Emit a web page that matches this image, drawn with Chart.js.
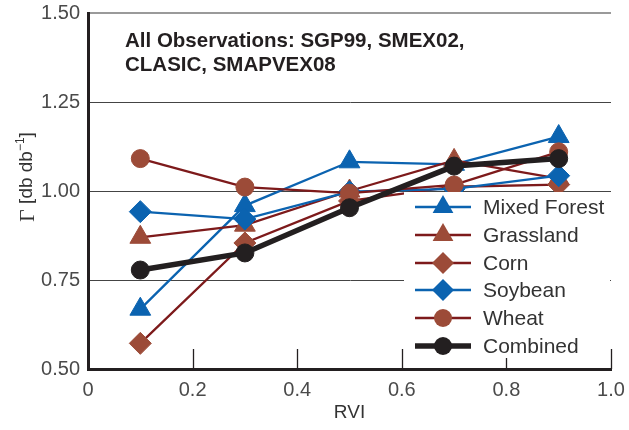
<!DOCTYPE html>
<html>
<head>
<meta charset="utf-8">
<script src="https://cdn.jsdelivr.net/npm/chart.js@4/dist/chart.umd.min.js"></script>
<style>
html,body{margin:0;padding:0;background:#fff;}
canvas{display:block;}
</style>
</head>
<body>
<canvas id="c" width="629" height="430"></canvas>
<script>
// ---- data ----
const rvi = [0.1, 0.3, 0.5, 0.7, 0.9];
const mixedForest = [0.668, 0.959, 1.082, 1.075, 1.153];
const grassland   = [0.870, 0.904, 1.000, 1.086, 1.035];
const corn        = [0.572, 0.854, 0.972, 1.012, 1.018];
const soybean     = [0.942, 0.921, 0.998, 1.006, 1.043];
const wheat       = [1.091, 1.011, 0.994, 1.017, 1.110];
const combined    = [0.778, 0.826, 0.953, 1.070, 1.091];
const seriesNames = ['Mixed Forest', 'Grassland', 'Corn', 'Soybean', 'Wheat', 'Combined'];
const xTicks = [0, 0.2, 0.4, 0.6, 0.8, 1.0];
const xTickLabels = ['0', '0.2', '0.4', '0.6', '0.8', '1.0'];
const yTicks = [0.5, 0.75, 1.0, 1.25, 1.5];
const yTickLabels = ['0.50', '0.75', '1.00', '1.25', '1.50'];
const titleLines = ['All Observations: SGP99, SMEX02,', 'CLASIC, SMAPVEX08'];
const xTitle = 'RVI';

const BLUE = '#0b63b0', DRED = '#7d1a1b', BROWN = '#9c4b38', BLACK = '#231f20';
const SANS = '"Liberation Sans", Arial, sans-serif';

function pts(arr){ return arr.map((v,i)=>({x: rvi[i], y: v})); }

const styles = [
  {line: BLUE, fill: BLUE, shape: 'triangle', r: 12, w: 2.3, order: 5},
  {line: DRED, fill: BROWN, shape: 'triangle', r: 12, w: 2.3, order: 4},
  {line: DRED, fill: BROWN, shape: 'rectRot', r: 11, w: 2.3, order: 3},
  {line: BLUE, fill: BLUE, shape: 'rectRot', r: 11, w: 2.3, order: 2},
  {line: DRED, fill: BROWN, shape: 'circle', r: 9, w: 2.3, order: 1},
  {line: BLACK, fill: BLACK, shape: 'circle', r: 9, w: 5.5, order: 0}
];
const allData = [mixedForest, grassland, corn, soybean, wheat, combined];

const datasets = allData.map((d, i) => ({
  label: seriesNames[i],
  data: pts(d),
  borderColor: styles[i].line,
  borderWidth: styles[i].w,
  backgroundColor: styles[i].fill,
  pointBackgroundColor: styles[i].fill,
  pointBorderColor: styles[i].fill,
  pointBorderWidth: 1,
  pointRadius: styles[i].r,
  pointHoverRadius: styles[i].r,
  pointStyle: styles[i].shape,
  tension: 0,
  fill: false,
  order: styles[i].order
}));

function drawShape(ctx, shape, r, x, y){
  ctx.beginPath();
  if (shape === 'triangle'){
    ctx.moveTo(x, y - r);
    ctx.lineTo(x + 0.866*r, y + 0.5*r);
    ctx.lineTo(x - 0.866*r, y + 0.5*r);
    ctx.closePath();
  } else if (shape === 'rectRot'){
    ctx.moveTo(x - r, y); ctx.lineTo(x, y - r); ctx.lineTo(x + r, y); ctx.lineTo(x, y + r);
    ctx.closePath();
  } else {
    ctx.arc(x, y, r, 0, Math.PI*2);
  }
  ctx.fill();
}

const decor = {
  id: 'decor',
  beforeDatasetsDraw(chart){
    const ctx = chart.ctx, xs = chart.scales.x, a = chart.chartArea;
    ctx.save();
    ctx.strokeStyle = BLACK; ctx.lineWidth = 1.3;
    xTicks.slice(1).forEach(v => {
      const px = Math.round(xs.getPixelForValue(v)) + 0.5;
      ctx.beginPath(); ctx.moveTo(px, a.bottom); ctx.lineTo(px, a.bottom - 20); ctx.stroke();
    });
    ctx.restore();
  },
  afterDraw(chart){
    const ctx = chart.ctx;
    ctx.save();
    // in-plot title text
    ctx.fillStyle = BLACK;
    ctx.font = 'bold 20.5px ' + SANS;
    ctx.textBaseline = 'alphabetic';
    ctx.textAlign = 'left';
    ctx.fillText(titleLines[0], 125, 47);
    ctx.fillText(titleLines[1], 125, 71);
    // legend box
    ctx.fillStyle = '#fff';
    ctx.fillRect(404, 192, 206, 166);
    const rows = [207, 235, 263, 290, 318, 346];
    seriesNames.forEach((name, i) => {
      const y = rows[i], s = styles[i];
      ctx.strokeStyle = s.line; ctx.lineWidth = s.w;
      ctx.beginPath(); ctx.moveTo(415, y); ctx.lineTo(471, y); ctx.stroke();
      ctx.fillStyle = s.fill;
      drawShape(ctx, s.shape, s.r, 443, y);
      ctx.fillStyle = '#333';
      ctx.font = '21px ' + SANS;
      ctx.textBaseline = 'middle';
      ctx.fillText(name, 483, y + 1);
    });
    // y-axis title (rotated)
    ctx.translate(27, 177);
    ctx.rotate(-Math.PI/2);
    ctx.fillStyle = '#333';
    ctx.textBaseline = 'middle';
    const p1 = 'Γ', p2 = ' [db db', p3 = '−1', p4 = ']';
    ctx.font = '22px "Liberation Serif", serif'; const w1 = ctx.measureText(p1).width;
    ctx.font = '19px ' + SANS; const w2 = ctx.measureText(p2).width; const w4 = ctx.measureText(p4).width;
    ctx.font = '12px ' + SANS; const w3 = ctx.measureText(p3).width;
    let x = -(w1 + w2 + w3 + w4)/2;
    ctx.font = '22px "Liberation Serif", serif'; ctx.fillText(p1, x, 1); x += w1;
    ctx.font = '19px ' + SANS; ctx.fillText(p2, x, 0); x += w2;
    ctx.font = '12px ' + SANS; ctx.fillText(p3, x, -6); x += w3;
    ctx.font = '19px ' + SANS; ctx.fillText(p4, x, 0);
    ctx.restore();
  }
};

new Chart(document.getElementById('c'), {
  type: 'line',
  data: { datasets },
  plugins: [decor],
  options: {
    responsive: false,
    devicePixelRatio: 1,
    animation: false,
    layout: { padding: { top: 7, right: 18, left: 0, bottom: 0 } },
    plugins: { legend: { display: false }, tooltip: { enabled: false }, title: { display: false } },
    scales: {
      x: {
        type: 'linear', min: 0, max: 1,
        afterBuildTicks: s => { s.ticks = xTicks.map(v => ({ value: v })); },
        afterFit: s => { s.height = 61; s.paddingLeft = 0; s.paddingRight = 0; },
        grid: { display: false, drawTicks: false },
        border: { display: true, color: BLACK, width: 3 },
        ticks: {
          padding: 9, color: '#4a4a4a', font: { family: SANS, size: 20 },
          maxRotation: 0, autoSkip: false,
          callback: (v, i) => xTickLabels[i]
        },
        title: { display: true, text: xTitle, color: '#333', font: { family: SANS, size: 19 }, padding: { top: 4, bottom: 6 } }
      },
      y: {
        type: 'linear', min: 0.5, max: 1.5,
        afterBuildTicks: s => { s.ticks = yTicks.map(v => ({ value: v })); },
        afterFit: s => { s.width = 88; s.paddingTop = 0; s.paddingBottom = 0; },
        grid: {
          drawTicks: false,
          color: c => (c.tick && c.tick.value === 1.5) ? '#9a9a9a' : '#444',
          lineWidth: c => (c.tick && c.tick.value === 1.5) ? 2 : 1
        },
        border: { display: true, color: BLACK, width: 3 },
        ticks: {
          padding: 8, color: '#4a4a4a', font: { family: SANS, size: 20 },
          autoSkip: false,
          callback: (v, i) => yTickLabels[i]
        }
      }
    }
  }
});
</script>
</body>
</html>
